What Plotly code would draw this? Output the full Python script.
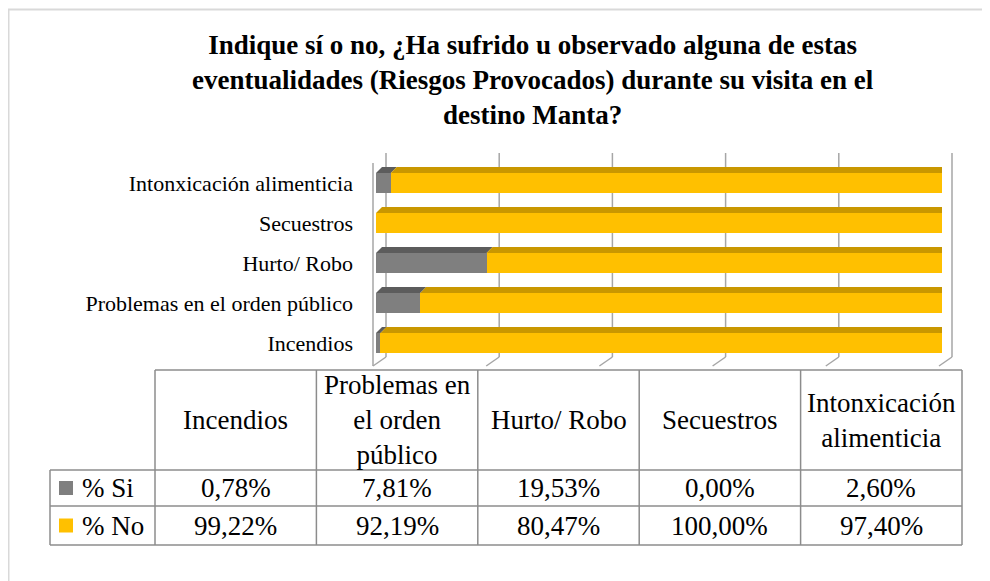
import plotly.graph_objects as go

# data
categories = ["Incendios", "Problemas en el orden público", "Hurto/ Robo",
              "Secuestros", "Intonxicación alimenticia"]
header_labels = ["Incendios", "Problemas en<br>el orden<br>público", "Hurto/ Robo",
                 "Secuestros", "Intonxicación<br>alimenticia"]
pct_si = [0.78, 7.81, 19.53, 0.00, 2.60]
pct_no = [99.22, 92.19, 80.47, 100.00, 97.40]
series_names = ["% Si", "% No"]
grid_vals = [0, 20, 40, 60, 80, 100]

W, H = 990, 581
OFF = 8  # page body margin
SERIF = "Liberation Serif"
GREY, GREY_TOP = "#7F7F7F", "#5C5C5C"
GOLD, GOLD_TOP, GOLD_SIDE = "#FFC000", "#C99700", "#A57C00"
LINE = "#8C8C8C"


def px(x):
    return (x - OFF) / W


def py(y):
    return 1 - (y - OFF) / H


fig = go.Figure()
ys = list(range(len(categories)))
fig.add_trace(go.Bar(y=ys, x=pct_si, orientation="h", width=0.5, name=series_names[0],
                     marker=dict(color=GREY, line=dict(width=0))))
fig.add_trace(go.Bar(y=ys, x=pct_no, orientation="h", width=0.5, name=series_names[1],
                     marker=dict(color=GOLD, line=dict(width=0))))

shapes = []

# outer chart frame
shapes.append(dict(type="rect", xref="paper", yref="paper", x0=px(8.5), y0=py(9.5),
                   x1=px(1010), y1=py(600), line=dict(color="#D9D9D9", width=2),
                   layer="below"))

# 3d back wall gridlines and floor slants
back_left, back_right = 386, 952
for v in grid_vals:
    xb = back_left + (back_right - back_left) * v / 100
    shapes.append(dict(type="line", xref="paper", yref="paper", x0=px(xb), y0=py(153),
                       x1=px(xb), y1=py(357), line=dict(color="#A6A6A6", width=1.5),
                       layer="below"))
    shapes.append(dict(type="line", xref="paper", yref="paper", x0=px(xb), y0=py(357),
                       x1=px(xb - 13), y1=py(366), line=dict(color="#A6A6A6", width=1.5),
                       layer="below"))
# left wall edge
shapes.append(dict(type="line", xref="paper", yref="paper", x0=px(373), y0=py(163),
                   x1=px(373), y1=py(366), line=dict(color="#A6A6A6", width=1.5),
                   layer="below"))

# bar depth: top faces and right side
dx, dy, half = 1.06, 0.15, 0.25
for i in ys:
    segs = [(0, pct_si[i], GREY_TOP), (pct_si[i], pct_si[i] + pct_no[i], GOLD_TOP)]
    for a, b, col in segs:
        if b - a <= 0:
            continue
        t = i + half
        shapes.append(dict(type="path", xref="x", yref="y", fillcolor=col,
                           line=dict(width=0),
                           path=f"M {a},{t} L {b},{t} L {b + dx},{t + dy} L {a + dx},{t + dy} Z"))
    end = pct_si[i] + pct_no[i]
    shapes.append(dict(type="path", xref="x", yref="y", fillcolor=GOLD_SIDE,
                       line=dict(width=0),
                       path=f"M {end},{i - half} L {end},{i + half} L {end + dx},{i + half + dy} "
                            f"L {end + dx},{i - half + dy} Z"))

# data table
col_left, col_right = 155, 962
ncol = len(categories)
cw = (col_right - col_left) / ncol
col_edges = [col_left + k * cw for k in range(ncol + 1)]
hdr_top, hdr_bot, row_mid, row_bot = 370, 470, 506, 545
leg_left = 50
tl = dict(color=LINE, width=1.5)
shapes.append(dict(type="line", xref="paper", yref="paper", x0=px(col_left), y0=py(hdr_top),
                   x1=px(col_right), y1=py(hdr_top), line=tl))
for yy in (hdr_bot, row_mid, row_bot):
    shapes.append(dict(type="line", xref="paper", yref="paper", x0=px(leg_left), y0=py(yy),
                       x1=px(col_right), y1=py(yy), line=tl))
for xe in col_edges:
    shapes.append(dict(type="line", xref="paper", yref="paper", x0=px(xe), y0=py(hdr_top),
                       x1=px(xe), y1=py(row_bot), line=tl))
shapes.append(dict(type="line", xref="paper", yref="paper", x0=px(leg_left), y0=py(hdr_bot),
                   x1=px(leg_left), y1=py(row_bot), line=tl))

annotations = []
tfont = dict(family=SERIF, size=27, color="#000000")
row_centers = [(hdr_bot + row_mid) / 2, (row_mid + row_bot) / 2]
for k in range(ncol):
    cx = (col_edges[k] + col_edges[k + 1]) / 2
    annotations.append(dict(x=px(cx), y=py((hdr_top + hdr_bot) / 2), xref="paper", yref="paper",
                            text=header_labels[k], showarrow=False, font=tfont,
                            xanchor="center", yanchor="middle"))
    for r, vals in enumerate((pct_si, pct_no)):
        txt = f"{vals[k]:.2f}%".replace(".", ",")
        annotations.append(dict(x=px(cx), y=py(row_centers[r]), xref="paper", yref="paper",
                                text=txt, showarrow=False, font=tfont,
                                xanchor="center", yanchor="middle"))

# legend keys inside the table
for r, col in enumerate((GREY, GOLD)):
    yc = row_centers[r]
    shapes.append(dict(type="rect", xref="paper", yref="paper", x0=px(59), x1=px(73),
                       y0=py(yc + 7), y1=py(yc - 7), fillcolor=col, line=dict(width=0)))
    annotations.append(dict(x=px(80), y=py(yc), xref="paper", yref="paper",
                            text=series_names[r], showarrow=False, font=tfont,
                            xanchor="left", yanchor="middle"))

# title
annotations.append(dict(
    x=px(533), y=py(80), xref="paper", yref="paper", showarrow=False,
    text="<b>Indique sí o no, ¿Ha sufrido u observado alguna de estas<br>"
         "eventualidades (Riesgos Provocados) durante su visita en el<br>"
         "destino Manta?</b>",
    font=dict(family=SERIF, size=27, color="#000000"),
    xanchor="center", yanchor="middle"))

fig.update_layout(
    width=W, height=H,
    margin=dict(l=0, r=0, t=0, b=0),
    paper_bgcolor="white", plot_bgcolor="rgba(0,0,0,0)",
    barmode="stack", showlegend=False,
    xaxis=dict(domain=[px(376), px(942)], range=[0, 100], visible=False),
    yaxis=dict(domain=[py(363), py(163)], range=[-0.5, 4.5], tickvals=ys, ticktext=categories,
               showgrid=False, zeroline=False, showline=False, ticks="",
               ticklabelstandoff=22, tickfont=dict(family=SERIF, size=22, color="#000000")),
    shapes=shapes, annotations=annotations,
)

fig.write_html("out.html")
